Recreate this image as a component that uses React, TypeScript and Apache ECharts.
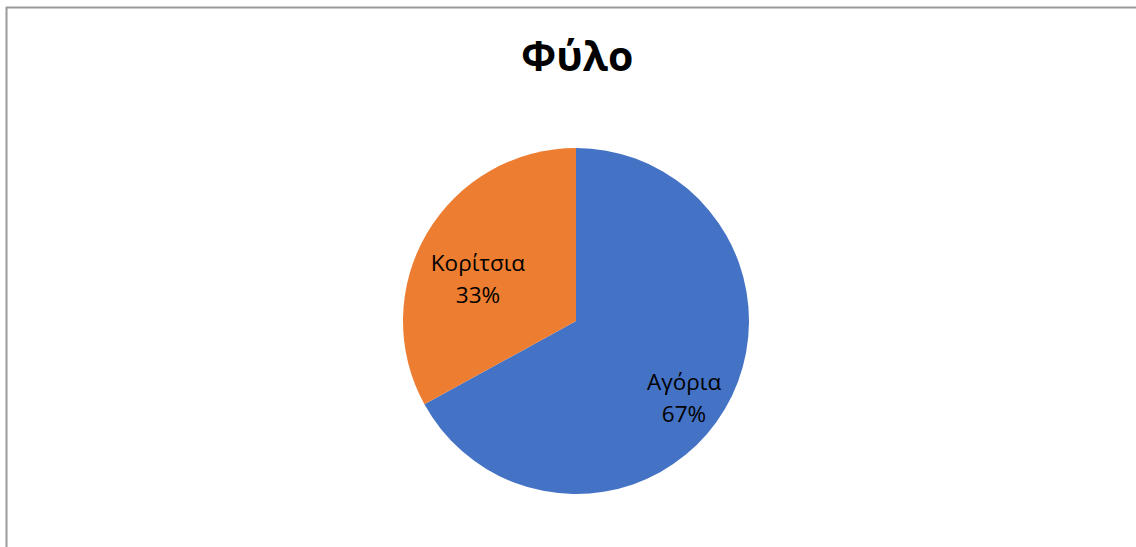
import React, { useEffect, useRef } from "react";
import * as echarts from "echarts";

const categories: string[] = ["Αγόρια", "Κορίτσια"];
const values: number[] = [67, 33];
const colors: string[] = ["#4472C4", "#ED7D31"];
const labelOffsets: number[][] = [[31, 31], [-21, 3]];
const titleText = "Φύλο";

export default function App() {
  const ref = useRef<HTMLDivElement>(null);
  useEffect(() => {
    document.body.style.margin = "0";
    if (!ref.current) return;
    const chart = echarts.init(ref.current, null, { renderer: "svg" });
    chart.setOption({
      animation: false,
      backgroundColor: "#ffffff",
      title: {
        text: titleText,
        left: 521,
        top: 34,
        padding: 0,
        textStyle: {
          fontFamily: "Open Sans",
          fontWeight: "bold",
          fontSize: 41,
          color: "#000000",
        },
      },
      graphic: [
        {
          type: "line",
          shape: { x1: 6, y1: 7.5, x2: 1136, y2: 7.5 },
          style: { stroke: "#9a9a9a", lineWidth: 2 },
        },
        {
          type: "line",
          shape: { x1: 6.5, y1: 7, x2: 6.5, y2: 547 },
          style: { stroke: "#9a9a9a", lineWidth: 2 },
        },
      ],
      series: [
        {
          type: "pie",
          center: [576, 321],
          radius: 173,
          startAngle: 90,
          clockwise: true,
          label: {
            show: true,
            position: "inside",
            formatter: (p: any) => `${p.name}\n${Math.round(p.percent)}%`,
            fontFamily: "Open Sans",
            fontSize: 22.5,
            lineHeight: 32,
            color: "#000000",
          },
          labelLine: { show: false },
          emphasis: { disabled: true },
          itemStyle: { borderWidth: 0 },
          data: categories.map((name, i) => ({
            name,
            value: values[i],
            itemStyle: { color: colors[i] },
            label: { offset: labelOffsets[i] },
          })),
        },
      ],
    });
    return () => chart.dispose();
  }, []);
  return <div ref={ref} style={{ width: 1136, height: 547 }} />;
}
